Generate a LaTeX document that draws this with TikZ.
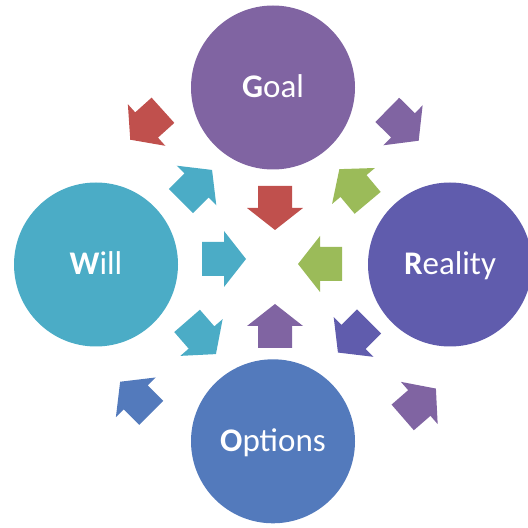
\documentclass[tikz,border=0pt]{standalone}
\usepackage{fontspec}
\setmainfont{Carlito}
\definecolor{cgoal}{HTML}{8064A2}
\definecolor{cwill}{HTML}{4BACC6}
\definecolor{creal}{HTML}{605CAD}
\definecolor{copt}{HTML}{537ABC}
\definecolor{cred}{HTML}{C0504D}
\definecolor{cgreen}{HTML}{9BBB59}
\tikzset{
  phase/.style={circle, minimum size=164pt, inner sep=0pt, text=white,
    text height=21pt, text depth=0pt, font=\fontsize{33}{40}\selectfont},
  pics/blockarrow/.style={code={
    \fill[#1] (-22,-17) -- (0,-17) -- (0,-28) -- (22,0) -- (0,28) -- (0,17) -- (-22,17) -- cycle;}}
}
\begin{document}
\begin{tikzpicture}[x=1pt, y=1pt]
  \useasboundingbox (0,0) rectangle (528,528);
  \node[phase, fill=cgoal] (g) at (273, 440.5) {\textbf{G}oal};
  \node[phase, fill=cwill] (w) at (96, 263.5) {\textbf{W}ill};
  \node[phase, fill=creal] (r) at (450, 263.5) {\textbf{R}eality};
  \node[phase, fill=copt] (o) at (273, 86.7) {\textbf{O}ptions};
  \pic[rotate=-90] (a0) at (275, 320) {blockarrow=cred};
  \pic[rotate=90] (a1) at (275, 202) {blockarrow=cgoal};
  \pic[rotate=0] (a2) at (224, 269) {blockarrow=cwill};
  \pic[rotate=180] (a3) at (320, 264) {blockarrow=cgreen};
  \pic[rotate=45] (a4) at (196.5, 342.5) {blockarrow=cwill};
  \pic[rotate=130] (a5) at (353.5, 342) {blockarrow=cgreen};
  \pic[rotate=-49] (a6) at (201.5, 190.5) {blockarrow=cwill};
  \pic[rotate=225] (a7) at (353.5, 191) {blockarrow=creal};
  \pic[rotate=222] (a8) at (146.6, 403) {blockarrow=cred};
  \pic[rotate=-44.5] (a9) at (403, 402.7) {blockarrow=cgoal};
  \pic[rotate=135] (a10) at (135.7, 130.7) {blockarrow=copt};
  \pic[rotate=41] (a11) at (419.3, 125) {blockarrow=cgoal};
\end{tikzpicture}
\end{document}
